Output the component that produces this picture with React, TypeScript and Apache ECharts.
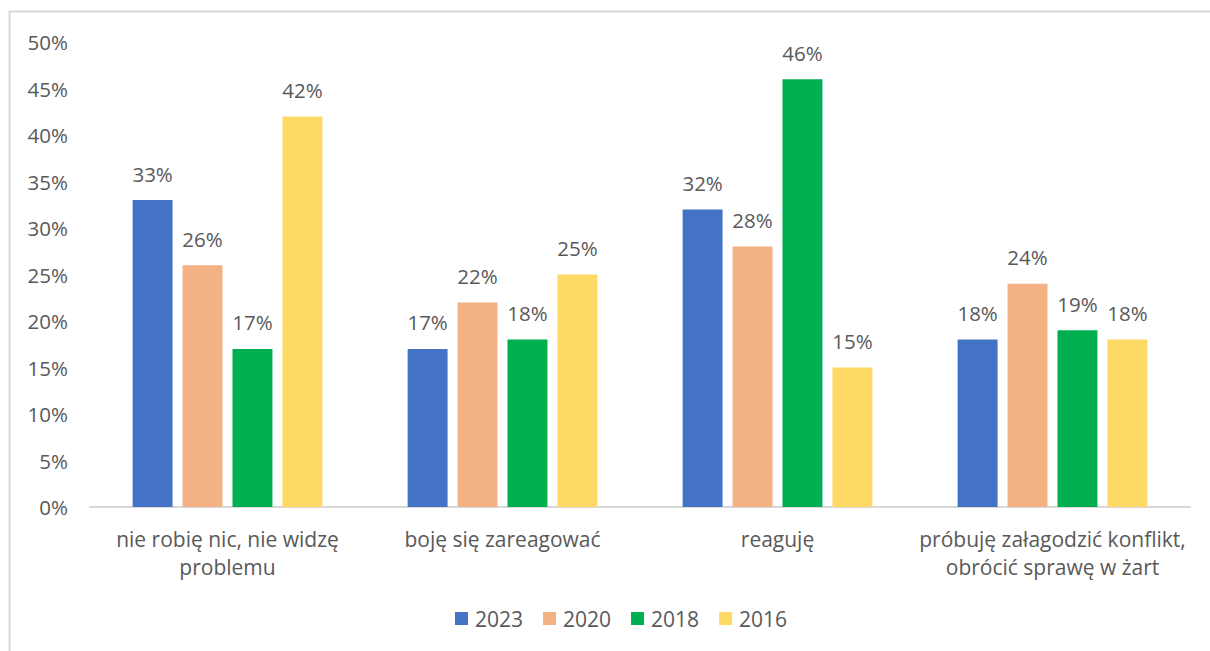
import React, { useEffect, useRef } from "react";
import * as echarts from "echarts";

const categories = [
  "nie robię nic, nie widzę\nproblemu",
  "boję się zareagować",
  "reaguję",
  "próbuję załagodzić konflikt,\nobrócić sprawę w żart",
];
const seriesNames = ["2023", "2020", "2018", "2016"];
const values2023 = [33, 17, 32, 18];
const values2020 = [26, 22, 28, 24];
const values2018 = [17, 18, 46, 19];
const values2016 = [42, 25, 15, 18];
const colors = ["#4472C4", "#F4B183", "#00B050", "#FFD966"];
const yTicks = { min: 0, max: 50, interval: 5 };

const FONT = "'Open Sans', 'Noto Sans', sans-serif";
const FS = 20.5;

export default function App() {
  const ref = useRef<HTMLDivElement>(null);
  useEffect(() => {
    if (!ref.current) return;
    const chart = echarts.init(ref.current, null, { renderer: "svg" });
    const data = [values2023, values2020, values2018, values2016];
    chart.setOption({
      animation: false,
      textStyle: { fontFamily: FONT },
      graphic: [
        {
          type: "rect",
          shape: { x: 9.5, y: 11.5, width: 1300, height: 800 },
          style: { fill: "none", stroke: "#d9d9d9", lineWidth: 2 },
          silent: true,
        },
      ],
      grid: { left: 90, right: 20, top: 42, bottom: 144, containLabel: false },
      legend: {
        data: seriesNames,
        bottom: 17,
        left: 450,
        itemWidth: 13,
        itemHeight: 13,
        itemGap: 20,
        icon: "rect",
        textStyle: { color: "#595959", fontSize: 21, fontFamily: FONT, padding: [0, 0, 0, 2] },
      },
      xAxis: {
        type: "category",
        data: categories,
        axisLine: { lineStyle: { color: "#d9d9d9", width: 2 } },
        axisTick: { show: false },
        axisLabel: {
          color: "#595959",
          fontSize: 21,
          lineHeight: 28,
          margin: 18,
          fontFamily: FONT,
          interval: 0,
        },
      },
      yAxis: {
        type: "value",
        min: yTicks.min,
        max: yTicks.max,
        interval: yTicks.interval,
        splitLine: { show: false },
        axisLine: { show: false },
        axisTick: { show: false },
        axisLabel: {
          color: "#595959",
          fontSize: FS,
          margin: 22,
          fontFamily: FONT,
          formatter: "{value}%",
        },
      },
      series: seriesNames.map((name, i) => ({
        name,
        type: "bar",
        data: data[i],
        barGap: "25%",
        barCategoryGap: "31%",
        itemStyle: { color: colors[i] },
        label: {
          show: true,
          position: "top",
          distance: 16,
          color: "#595959",
          fontSize: FS,
          fontFamily: FONT,
          formatter: "{c}%",
        },
      })),
    });
    return () => chart.dispose();
  }, []);
  return (
    <div
      ref={ref}
      style={{ position: "fixed", left: 0, top: 0, width: 1210, height: 651, background: "#fff" }}
    />
  );
}
